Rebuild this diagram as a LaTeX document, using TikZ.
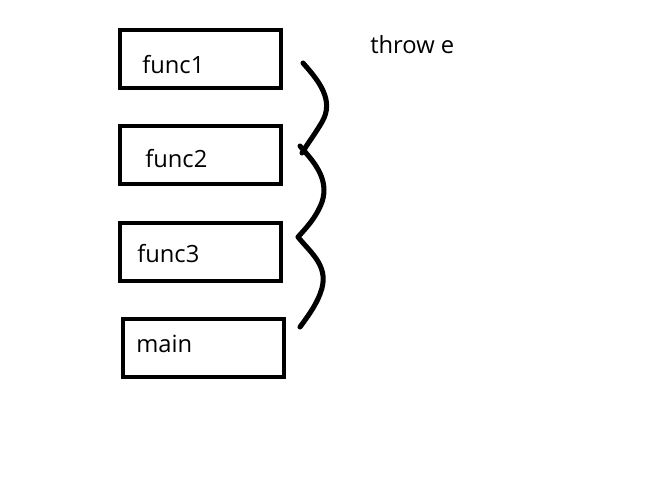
\documentclass[tikz,border=0pt]{standalone}
\usepackage{fontspec}
\setmainfont{Open Sans}
\begin{document}
\begin{tikzpicture}[x=0.75pt,y=-0.75pt,
  box/.style={draw=black,line width=3pt,minimum width=161*0.75pt,minimum height=58*0.75pt,inner sep=0pt},
  lbl/.style={font=\fontsize{17.8}{20}\selectfont,inner sep=0pt,anchor=base west},
  squiggle/.style={line width=3.8pt,line cap=round,line join=round}]
\useasboundingbox[fill=white] (0,0) rectangle (658,480);
\node[box] (f1) at (200.5,58.5) {};
\node[box] (f2) at (200,154.5) {};
\node[box] (f3) at (200,252) {};
\node[box] (mn) at (203,347.5) {};
\node[lbl] (t1) at (142,73) {func1};
\node[lbl] (t2) at (145,167) {func2};
\node[lbl] (t3) at (137,262) {func3};
\node[lbl] (t4) at (136,352) {main};
\node[lbl] (te) at (370,53) {throw e};
\draw[squiggle] (303,63) .. controls (318,80) and (335,100) .. (322,122) .. controls (315,134) and (308,143) .. (302,153);
\draw[squiggle] (300,146) .. controls (312,160) and (330,178) .. (322,202) .. controls (316,218) and (306,228) .. (298,237)
  .. controls (310,252) and (328,265) .. (322,288) .. controls (318,303) and (308,316) .. (300,327);
\end{tikzpicture}
\end{document}
